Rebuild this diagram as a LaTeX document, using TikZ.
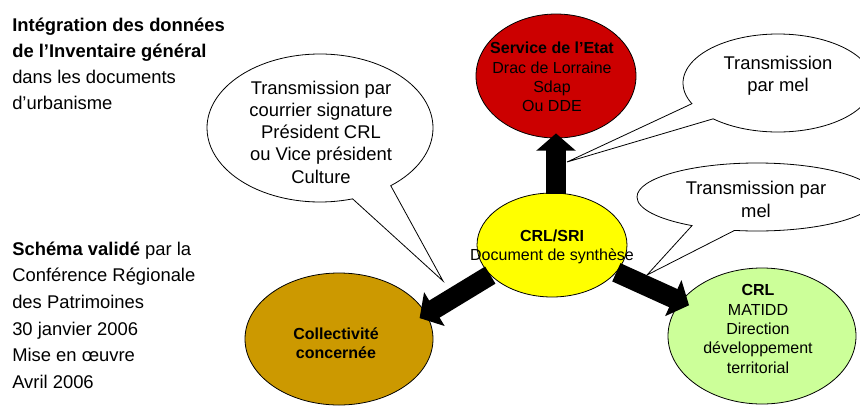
\documentclass[tikz,border=0pt]{standalone}
\usepackage{fontspec}
\setmainfont{Liberation Sans}
\usetikzlibrary{shapes.geometric,shapes.callouts,arrows.meta}
\definecolor{rouge}{HTML}{CC0000}
\definecolor{jaune}{HTML}{FFFF00}
\definecolor{ocre}{HTML}{CC9900}
\definecolor{vert}{HTML}{CCFF99}

\begin{document}
\begin{tikzpicture}[x=0.75pt,y=-0.75pt,
    acteur/.style={ellipse,draw,line width=0.6pt,inner sep=0pt},
    nom/.style={align=center,inner sep=0pt,font=\fontsize{12}{14.5}\selectfont},
    bulle/.style={ellipse callout,draw,fill=white,line width=0.6pt,inner sep=0pt,callout pointer arc=22},
    texte/.style={align=center,inner sep=0pt,font=\fontsize{13.8}{16.7}\selectfont},
    bigarrow/.style={line width=15pt,-{Triangle[length=13pt,width=29pt]}},
    intro/.style={anchor=north west,inner sep=0pt,align=left}]
  \useasboundingbox (0,0) rectangle (860,408);
  \clip (0,0) rectangle (860,408);

  % textes a gauche
  \node[intro,font=\fontsize{13.8}{19.5}\selectfont] (titre) at (12,18)
    {\textbf{Intégration des données}\\\textbf{de l’Inventaire général}\\dans les documents\\d’urbanisme};
  \node[intro,font=\fontsize{13.8}{20}\selectfont] (valide) at (12,241.5)
    {\textbf{Schéma validé} par la\\Conférence Régionale\\des Patrimoines\\30 janvier 2006\\Mise en œuvre\\Avril 2006};

  % les acteurs
  \node[acteur,fill=rouge,minimum width=120pt,minimum height=93pt] (etat) at (556,76) {};
  \node[nom] (etatlbl) at (552,77) {\textbf{Service de l’Etat}\\Drac de Lorraine\\Sdap\\Ou DDE};
  \node[acteur,fill=jaune,minimum width=112.5pt,minimum height=78pt] (crl) at (552,245) {};
  \node[nom] (crllbl) at (552,247) {\textbf{CRL/SRI}\\Document de synthèse};
  \node[acteur,fill=ocre,minimum width=141pt,minimum height=99pt] (coll) at (339,339) {};
  \node[nom] (colllbl) at (336,343) {\textbf{Collectivité}\\\textbf{concernée}};
  \node[acteur,fill=vert,minimum width=141pt,minimum height=102pt] (dev) at (762,336) {};
  \node[nom] (devlbl) at (758,329) {\textbf{CRL}\\MATIDD\\Direction\\développement\\territorial};

  % fleches
  \draw[bigarrow,shorten <=-1pt,shorten >=-3.75pt] (etat.south |- crl.north) -- (etat.south);
  \draw[bigarrow,shorten >=-6pt] (crl.206) -- (coll.16);
  \draw[bigarrow,shorten >=-7pt] (crl.337) -- (dev.157);

  % bulles
  \coordinate (tipA) at (443,281);
  \coordinate (tipB) at (567,162);
  \coordinate (tipC) at (647,275);
  \node[bulle,minimum width=169.5pt,minimum height=111pt,callout absolute pointer={(tipA)}] (courrier) at (320,128) {};
  \node[texte] (courrierlbl) at (321,132) {Transmission par\\courrier signature\\Président CRL\\ou Vice président\\Culture};
  \node[bulle,minimum width=142.5pt,minimum height=73.5pt,callout absolute pointer={(tipB)}] (mel) at (778,83) {};
  \node[texte] (mellbl) at (778,76) {Transmission\\par mel};
  \node[bulle,minimum width=180pt,minimum height=51pt,callout absolute pointer={(tipC)}] (melbis) at (757,197) {};
  \node[texte] (melbislbl) at (756,199.5) {Transmission par\\mel};
\end{tikzpicture}
\end{document}
